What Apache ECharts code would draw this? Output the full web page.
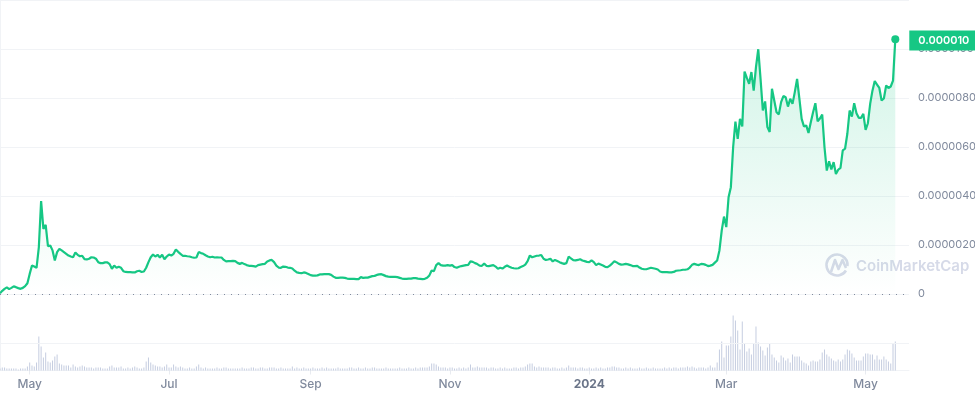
<!DOCTYPE html>
<html><head><meta charset="utf-8">
<style>html,body{margin:0;padding:0;background:#fff}#c{width:975px;height:396px}</style>
<script src="https://cdn.jsdelivr.net/npm/echarts@6/dist/echarts.min.js"></script>
</head><body><div id="c"></div>
<script>
// Daily closing price, in units of 1e-7 USD, starting 18 Apr 2023
const priceE7 = [
0.3,1.3,2.1,2.7,2.0,2.5,3.1,2.8,2.4,2.1,2.5,3.2,4.4,8.2,11.6,11.2,10.7,19,37.9,26.6,
28.2,19.5,19.8,17.8,13.7,17.1,18.4,17.8,17.1,16.4,15.7,15.3,15,16.9,16,15.4,15.6,14.2,14.1,14.4,
15,14.9,14.4,13,12.6,12.6,12.9,12.9,12.2,10.3,11.6,10.7,11.1,10.7,9.3,9,8.9,8.9,8.8,8.8,
9.3,9.5,9,9.2,10.7,13,15,16.1,15.3,16,14.9,16,14.2,15.3,16.1,15.7,16.4,18.2,17.2,16.4,
15.6,15.6,15.4,15.3,15,14.8,14.9,17.1,16.7,16.4,15.8,15.3,15,15.2,14.9,15,14.9,14.9,13.9,13.3,
13.4,13.4,13.5,13.4,12.7,12.3,12.7,12.2,11.8,11.5,11.5,11.4,11.2,11.8,12,12.2,12.3,13.3,13.7,13.9,
13,11.6,10.8,10.7,11.2,11.1,10.8,10.7,10.4,9.5,8.8,8.6,8.5,8.8,8.6,8.2,7.7,7.5,7.5,7.6,
8,8,8.1,8.1,8.1,7.8,7.1,6.6,6.6,6.7,6.7,6.6,6.3,6.2,6.2,6.2,6.1,6.1,6.9,6.6,
6.7,6.7,7,7.3,7.4,7.8,8,8.1,7.7,7.3,7.1,7,7,7,6.9,6.6,6.3,6.2,6.2,6.3,
6.3,6.5,6.5,6.3,6.2,6.1,6.2,6.6,7.6,9.6,9.3,11.8,12.6,11.8,11.6,11.6,11.8,11.6,11.8,11,
10.7,11.1,11.4,11.6,11.8,11.9,13.3,13.1,12.6,12.2,11.6,11.5,12.4,11.5,11.4,11.6,11.8,11.2,10.3,10.7,
10.4,11.1,11.6,11.1,10.7,10.5,10.4,10.5,11,11.4,12,13.4,15.7,15,15.3,15.6,15.7,15.9,14.4,13.9,
14.1,14.4,13.3,13.9,13.5,13,12.6,12.3,12.6,15.3,14.5,13.8,13.7,13.9,14.2,13.7,13.4,13.1,13,13.7,
13,11.8,12.4,12,11.6,11.1,11,11.6,12.4,13.4,12.9,12.3,12,12.1,12.3,12.1,11.8,11.4,11.4,11.5,
10.8,10.3,10.1,10.1,10.4,10.7,10.5,10.3,10,9.2,8.9,8.9,8.9,8.8,8.8,9,9.5,9.6,9.7,9.9,
9.9,10.1,10.8,11.9,12.3,12,11.8,12.3,12.2,11.9,11.4,11.6,11.9,12.8,13.7,17.8,25.9,31.6,27.3,39.5,
43.6,59.9,70.4,63.3,71.5,68.4,90.8,88.2,85.8,90.6,83,92.6,99.9,87.8,74.9,78.6,68.1,66.1,83.8,79,
74.2,73.3,78.3,80.8,80.3,76.5,79.7,77.6,82.4,87.8,79.7,71.5,68.4,68.8,65.7,70.1,74.2,77.9,70.5,71.6,
73.2,59.9,50.4,54.2,50.8,53.8,49,50.7,51.5,58.6,59.3,65.4,74.9,72.4,77.9,73.8,71.9,71.9,73.5,67,
69.7,77.6,83,86.9,85.5,84.1,79,79.8,85.1,84.1,84.7,87.1,104
];
// Daily traded volume (arbitrary units; the light grid line sits at 27)
const volume = [
2,3,3,2,2,2,2,2,1,2,2,2,4,
8,5,4,8,34,24,13,18,9,8,10,14,16,7,6,5,5,5,3,6,4,
3,4,5,4,3,3,3,2,3,3,3,2,2,2,4,5,3,3,3,4,2,2,3,2,3,4,3,2,2,3,
9,13,8,6,5,4,4,3,4,6,3,3,6,4,3,4,3,2,2,3,2,2,4,6,3,2,3,2,
2,2,2,3,2,2,3,3,2,2,2,2,2,2,3,2,2,2,3,3,
2,2,3,3,2,2,3,3,3,2,2,3,2,2,2,2,4,2,3,2,
2,3,2,2,2,3,2,2,2,3,2,3,2,2,2,2,3,2,2,2,
2,3,3,2,2,3,2,2,3,2,2,3,3,2,2,2,2,3,2,2,
2,2,2,3,2,2,2,3,2,2,3,2,3,3,3,3,4,7,7,6,
4,3,3,3,2,3,3,2,2,3,2,3,2,3,6,3,3,4,3,3,
3,3,2,3,3,2,2,3,2,3,2,2,2,3,3,2,3,3,4,6,
7,7,4,3,4,3,3,3,3,2,3,3,2,2,3,2,3,5,3,3,
3,2,3,3,2,2,3,2,2,3,2,3,2,2,3,3,4,4,3,3,
2,2,3,2,3,2,2,2,3,2,2,3,2,2,3,2,2,2,2,3,
2,3,2,3,3,2,3,3,3,4,3,4,3,2,3,
3,3,2,3,5,3,3,8,21,29,13,25,25,34,55,50,40,21,49,27,
19,22,16,27,44,28,24,20,15,23,27,16,13,10,8,15,13,10,12,8,
16,14,14,14,10,8,7,5,9,10,9,9,11,18,21,16,14,12,10,9,
11,9,11,16,21,20,17,13,10,10,10,14,17,17,16,16,11,15,11,11,
14,11,9,7,27,29
];
const priceTicks = [0,20,40,60,80,100];
const monthTicks = [['May',2023,4],['Jul',2023,6],['Sep',2023,8],['Nov',2023,10],['2024',2024,0],['Mar',2024,2],['May',2024,4]];
const startDay = Date.UTC(2023,3,18);
const DAY = 86400000;
const axisEndDays = 398;

const priceData = priceE7.map((v,i)=>[i,v]);
const volData = volume.map((v,i)=>[i,v]);
const tickDays = monthTicks.map(t=>Math.round((Date.UTC(t[1],t[2],1)-startDay)/DAY));
const lastPoint = priceData[priceData.length-1];
const GREEN='#16C784', FAINT='#F1F3F6', GREY='#808A9D', WM='#D6DAE8';
const font='Inter, "Noto Sans", sans-serif';

const chart = echarts.init(document.getElementById('c'),null,{renderer:'canvas'});
chart.setOption({
  animation:false,
  backgroundColor:'#fff',
  grid:[
    {left:0,top:0,width:909,height:294,containLabel:false,outerBoundsMode:'none'},
    {left:0,top:294,width:909,height:76.5,containLabel:false,outerBoundsMode:'none'}
  ],
  xAxis:[
    {type:'value',gridIndex:0,min:0,max:axisEndDays,show:false,splitLine:{show:false}},
    {type:'value',gridIndex:1,min:0,max:axisEndDays,
      axisLine:{show:true,onZero:false,lineStyle:{color:FAINT,width:1}},
      axisTick:{show:true,customValues:tickDays,length:4,lineStyle:{color:'#E8EBF0'}},
      splitLine:{show:false},
      axisLabel:{show:true,customValues:tickDays,margin:8,color:GREY,fontFamily:font,fontSize:12,fontWeight:500,
        formatter:(v)=>{const i=tickDays.indexOf(+v);const s=i>=0?monthTicks[i][0]:'';return s==='2024'?'{y|2024}':s;},
        rich:{y:{fontFamily:font,fontSize:12,fontWeight:700,color:'#6B7589'}}}}
  ],
  yAxis:[
    {type:'value',gridIndex:0,position:'right',min:0,max:120,interval:20,
      axisLine:{show:true,lineStyle:{color:FAINT}},axisTick:{show:false},
      splitLine:{show:true,lineStyle:{color:FAINT,width:1}},
      axisLabel:{margin:9,color:GREY,fontFamily:font,fontSize:11,
        formatter:v=>v===0?'0':(priceTicks.includes(v)?(v*1e-7).toFixed(7):'')}},
    {type:'value',gridIndex:1,position:'right',min:0,max:76.5,
      axisLine:{show:true,lineStyle:{color:FAINT}},axisTick:{show:false},
      splitLine:{show:false},axisLabel:{show:false}}
  ],
  series:[
    {type:'line',xAxisIndex:0,yAxisIndex:0,data:priceData,showSymbol:false,smooth:false,z:5,
      lineStyle:{color:GREEN,width:2.2},itemStyle:{color:GREEN},
      areaStyle:{color:{type:'linear',x:0,y:0,x2:0,y2:1,colorStops:[
        {offset:0,color:'rgba(22,199,132,0.28)'},{offset:1,color:'rgba(22,199,132,0)'}]}},
      endLabel:{show:true,distance:14,offset:[0,1.3],formatter:()=>(lastPoint[1]*1e-7).toFixed(6),
        color:'#fff',fontFamily:font,fontSize:11,fontWeight:600,lineHeight:12,
        backgroundColor:GREEN,padding:[4,20,4,9]},
      markLine:{silent:true,symbol:'none',animation:false,label:{show:false},
        lineStyle:{color:GREY,type:[1,6],width:1},data:[{yAxis:0}]},
      markPoint:{silent:true,symbol:'circle',symbolSize:8,animation:false,label:{show:false},
        itemStyle:{color:GREEN},data:[{coord:lastPoint}]}},
    {type:'bar',xAxisIndex:1,yAxisIndex:1,data:volData,barWidth:1,itemStyle:{color:'#C5CDE0'},
      markLine:{silent:true,symbol:'none',animation:false,label:{show:false},
        lineStyle:{color:FAINT,type:'solid',width:1},data:[{yAxis:27}]}}
  ],
  graphic:[
    {type:'group',silent:true,z:50,children:[
      {type:'arc',shape:{cx:837,cy:265,r:10.5,startAngle:0.55,endAngle:Math.PI*2+0.1,clockwise:true},style:{stroke:WM,lineWidth:2.6,fill:null}},
      {type:'polyline',shape:{points:[[831,272],[835,260],[838.5,269],[842.5,260],[846,268]]},style:{stroke:WM,lineWidth:2.6,fill:null,lineJoin:'round'}},
      {type:'text',x:856,y:266,style:{text:'CoinMarketCap',font:'600 15px '+font,fill:WM,textVerticalAlign:'middle'}}
    ]}
  ]
});
</script></body></html>
